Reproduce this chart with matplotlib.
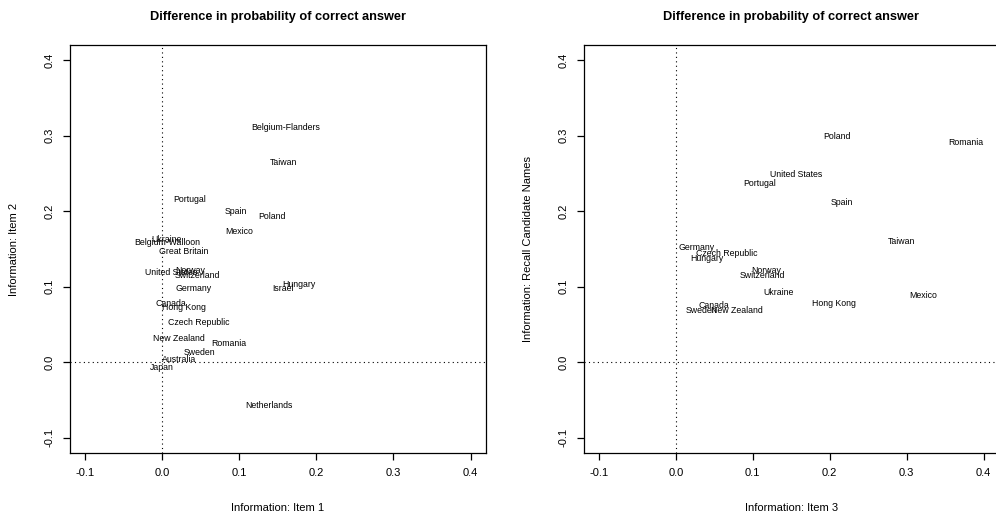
import matplotlib
matplotlib.use("Agg")
import matplotlib.pyplot as plt

plt.rcParams['font.family'] = ['Liberation Sans', 'DejaVu Sans']

# Panel 1: Item 1 vs Item 2
countries_1 = ["Belgium-Flanders", "Taiwan", "Portugal", "Spain", "Poland", "Mexico",
               "Belgium-Walloon", "Ukraine", "Great Britain", "United States", "Norway",
               "Switzerland", "Hungary", "Israel", "Germany", "Canada", "Hong Kong",
               "Czech Republic", "New Zealand", "Romania", "Sweden", "Australia",
               "Japan", "Netherlands"]
item1 = [0.160, 0.158, 0.036, 0.096, 0.142, 0.100,
         0.007, 0.006, 0.028, 0.012, 0.036,
         0.046, 0.178, 0.157, 0.041, 0.012, 0.028,
         0.048, 0.022, 0.087, 0.049, 0.022,
         0.000, 0.139]
item2 = [0.311, 0.264, 0.215, 0.199, 0.193, 0.173,
         0.159, 0.163, 0.147, 0.119, 0.122,
         0.115, 0.103, 0.098, 0.098, 0.078, 0.073,
         0.053, 0.032, 0.025, 0.013, 0.004,
         -0.007, -0.057]

# Panel 2: Item 3 vs recall of candidate names
countries_2 = ["Poland", "Romania", "United States", "Portugal", "Spain", "Taiwan",
               "Mexico", "Hong Kong", "Ukraine", "Norway", "Switzerland", "Germany",
               "Czech Republic", "Hungary", "Canada", "New Zealand", "Sweden"]
item3 = [0.209, 0.377, 0.156, 0.109, 0.216, 0.293,
         0.322, 0.206, 0.134, 0.118, 0.112, 0.027,
         0.066, 0.040, 0.049, 0.079, 0.033]
recall = [0.299, 0.291, 0.248, 0.237, 0.212, 0.160,
          0.089, 0.078, 0.093, 0.122, 0.115, 0.152,
          0.144, 0.138, 0.075, 0.069, 0.068]

ticks = [-0.1, 0.0, 0.1, 0.2, 0.3, 0.4]
tick_labels = ["-0.1", "0.0", "0.1", "0.2", "0.3", "0.4"]
title = "Difference in probability of correct answer"

W, H = 996, 517
fig = plt.figure(figsize=(W / 100, H / 100), dpi=100)
fig.patch.set_facecolor("white")


def panel(rect, xs, ys, names, xlabel, ylabel):
    ax = fig.add_axes(rect)
    ax.set_xlim(-0.12, 0.42)
    ax.set_ylim(-0.12, 0.42)
    ax.axvline(0, color="black", lw=0.8, linestyle=(0, (1, 3)))
    ax.axhline(0, color="black", lw=0.8, linestyle=(0, (1, 3)))
    for name, x, y in zip(names, xs, ys):
        ax.text(x, y, name, fontsize=6.3, ha="center", va="center", color="black")
    ax.set_xticks(ticks)
    ax.set_xticklabels(tick_labels, fontsize=8)
    ax.set_yticks(ticks)
    ax.set_yticklabels(tick_labels, fontsize=8, rotation=90, va="center")
    ax.tick_params(direction="out", length=5, width=0.9, pad=6)
    for s in ax.spines.values():
        s.set_linewidth(0.9)
    ax.set_xlabel(xlabel, fontsize=8, labelpad=18)
    ax.set_ylabel(ylabel, fontsize=8, labelpad=18)
    ax.set_title(title, fontsize=9.2, fontweight="bold", pad=18)
    return ax


def rect_px(x0, y0, x1, y1):
    return [x0 / W, 1 - y1 / H, (x1 - x0) / W, (y1 - y0) / H]


panel(rect_px(69.5, 45, 486, 453), item1, item2, countries_1,
      "Information: Item 1", "Information: Item 2")
panel(rect_px(583.5, 45, 999, 453), item3, recall, countries_2,
      "Information: Item 3", "Information: Recall Candidate Names")

fig.savefig("out.png", dpi=100)
